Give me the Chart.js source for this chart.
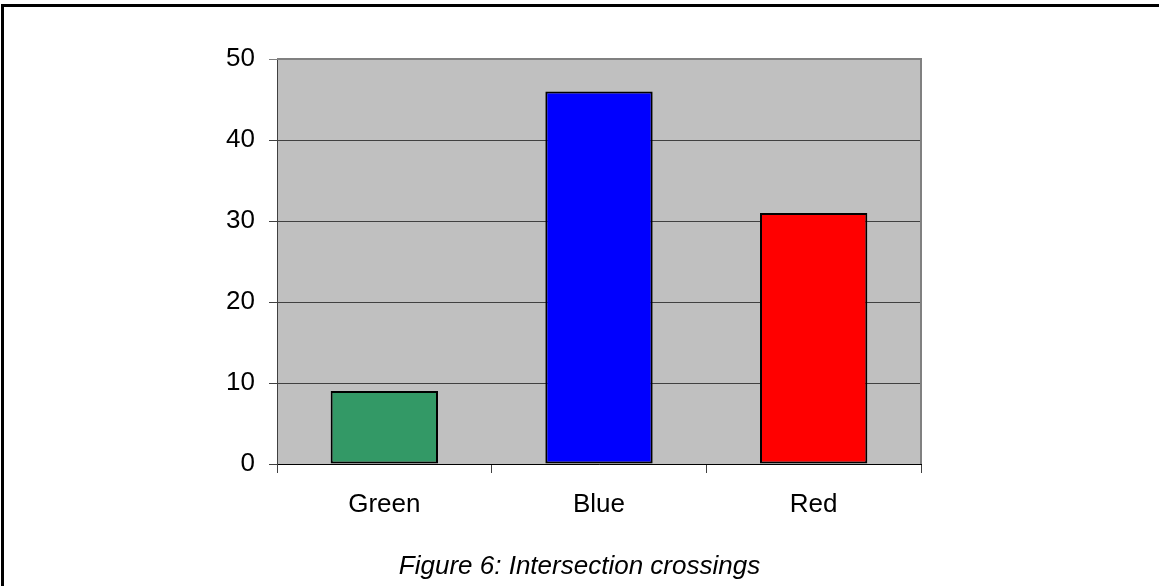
<!DOCTYPE html>
<html>
<head>
<meta charset="utf-8">
<script src="https://cdn.jsdelivr.net/npm/chart.js@4/dist/chart.umd.min.js"></script>
<style>
  html, body { margin: 0; padding: 0; background: #fff; }
  #wrap { position: relative; width: 1159px; height: 586px; overflow: hidden; }
  #frame { position: absolute; left: 1px; top: 4px; width: 1200px; height: 700px;
           border-left: 3px solid #000; border-top: 3px solid #000; box-sizing: border-box; }
  #caption { position: absolute; left: 0; width: 1159px; top: 550px; text-align: center;
             font: italic 26px "Liberation Sans", Arial, sans-serif; line-height: 30px; color: #000; }
</style>
</head>
<body>
<div id="wrap">
  <canvas id="crossChart" width="1159" height="586"></canvas>
  <div id="frame"></div>
  <div id="caption">Figure 6: Intersection crossings</div>
</div>
<script>
// crossings per colour group
const categories = ['Green', 'Blue', 'Red'];
const crossings = [9, 46, 31];
const barColors = ['#339966', '#0000FF', '#FF0000'];
const yTicks = [0, 10, 20, 30, 40, 50];

// grey plot background + grey top/right edge
const plotBg = {
  id: 'plotBg',
  beforeDraw(chart) {
    const a = chart.chartArea, ctx = chart.ctx;
    ctx.save();
    ctx.fillStyle = '#C0C0C0';
    ctx.fillRect(a.left, a.top, a.right - a.left, a.bottom - a.top);
    ctx.restore();
  },
  beforeDatasetsDraw(chart) {
    const a = chart.chartArea, ctx = chart.ctx;
    ctx.save();
    ctx.strokeStyle = '#808080';
    ctx.lineWidth = 2;
    ctx.beginPath();
    ctx.moveTo(a.left, a.top);
    ctx.lineTo(a.right, a.top);
    ctx.lineTo(a.right, a.bottom);
    ctx.stroke();
    ctx.restore();
  }
};

const font = { family: '"Liberation Sans", Arial, sans-serif', size: 26 };

new Chart(document.getElementById('crossChart'), {
  type: 'bar',
  data: {
    labels: categories,
    datasets: [{
      data: crossings,
      backgroundColor: barColors,
      borderColor: '#000',
      borderWidth: 2,
      borderSkipped: false,
      barPercentage: 0.5,
      categoryPercentage: 1.0
    }]
  },
  options: {
    responsive: false,
    animation: false,
    layout: { padding: { left: 0, top: 59, right: 238, bottom: 0 } },
    plugins: { legend: { display: false }, tooltip: { enabled: false } },
    scales: {
      x: {
        offset: true,
        grid: { offset: true, drawOnChartArea: false, tickLength: 9, color: '#404040', lineWidth: 1 },
        border: { color: '#000', width: 1 },
        ticks: { color: '#000', font: font, padding: 16 },
        afterFit(scale) { scale.height = 122; }
      },
      y: {
        min: 0,
        max: 50,
        afterBuildTicks(scale) { scale.ticks = yTicks.map(v => ({ value: v })); },
        grid: { tickLength: 8, lineWidth: 1,
                color: c => c.tick && c.tick.value === 50 ? '#808080' : '#404040' },
        border: { color: '#404040', width: 1 },
        ticks: { color: '#000', font: font, padding: 14 },
        afterFit(scale) { scale.width = 277; }
      }
    }
  },
  plugins: [plotBg]
});
</script>
</body>
</html>
